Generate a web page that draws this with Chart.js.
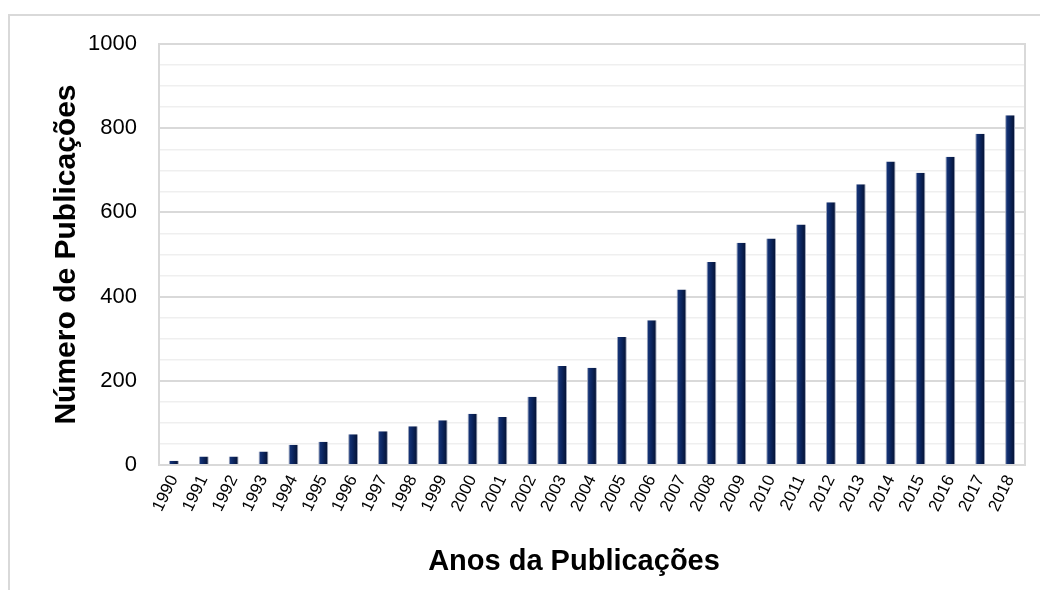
<!DOCTYPE html>
<html>
<head>
<meta charset="utf-8">
<script src="https://cdn.jsdelivr.net/npm/chart.js@4.4.1/dist/chart.umd.min.js"></script>
<style>
  body { margin: 0; width: 1040px; height: 590px; overflow: hidden; background: #fff; position: relative; }
  #frame { position: absolute; left: 8px; top: 14px; width: 1100px; height: 700px; border: 2px solid #d9d9d9; }
  #wrap { position: absolute; left: 0; top: 0; width: 1040px; height: 590px; }
</style>
</head>
<body>
<div id="frame"></div>
<div id="wrap"><canvas id="chart" width="1040" height="590"></canvas></div>
<script>
const years = ['1990','1991','1992','1993','1994','1995','1996','1997','1998','1999',
               '2000','2001','2002','2003','2004','2005','2006','2007','2008','2009',
               '2010','2011','2012','2013','2014','2015','2016','2017','2018'];
const publications = [10, 20, 20, 32, 48, 55, 73, 80, 92, 106,
                      122, 114, 162, 235, 231, 304, 344, 417, 482, 528,
                      538, 571, 624, 667, 721, 694, 732, 787, 831];
const yMax = 1000;
const yStep = 50;
const yLabelStep = 200;
const xTitle = 'Anos da Publicações';
const yTitle = 'Número de Publicações';

const font = "'Liberation Sans', Arial, sans-serif";

// grey box round the plot area and the x title, drawn after everything else
const extras = {
  id: 'extras',
  beforeDatasetsDraw(chart) {
    const {ctx, chartArea: a} = chart;
    ctx.save();
    ctx.strokeStyle = '#d9d9d9';
    ctx.lineWidth = 2;
    ctx.strokeRect(a.left, a.top, a.right - a.left, a.bottom - a.top);
    ctx.restore();
  },
  afterDraw(chart) {
    const {ctx} = chart;
    ctx.save();
    ctx.font = 'bold 29px ' + font;
    ctx.fillStyle = '#000';
    ctx.textAlign = 'center';
    ctx.textBaseline = 'middle';
    ctx.fillText(xTitle, 574, 562);
    ctx.restore();
  }
};

function barColor(c) {
  const chart = c.chart;
  if (!chart.chartArea || c.dataIndex === undefined) return '#0b2258';
  const x = chart.scales.x.getPixelForValue(c.dataIndex);
  const g = chart.ctx.createLinearGradient(x - 5, 0, x + 5, 0);
  g.addColorStop(0, '#1a3a80');
  g.addColorStop(0.45, '#0c2660');
  g.addColorStop(1, '#04102e');
  return g;
}

let ctx = document.getElementById('chart');
new Chart(ctx, {
  type: 'bar',
  data: {
    labels: years,
    datasets: [{
      label: 'Publicações',
      data: publications,
      backgroundColor: barColor,
      borderColor: '#9aa2b8',
      borderWidth: {left: 1, right: 1, top: 0, bottom: 0},
      barPercentage: 0.33,
      categoryPercentage: 1.0,
    }]
  },
  options: {
    responsive: false,
    animation: false,
    events: [],
    layout: { padding: { top: 44, right: 15, left: 0, bottom: 0 } },
    plugins: {
      legend: { display: false },
      tooltip: { enabled: false }
    },
    scales: {
      x: {
        afterFit: (s) => { s.height = 125; },
        grid: { display: false, drawTicks: false },
        border: { display: false },
        ticks: {
          color: '#000',
          autoSkip: false,
          minRotation: 64,
          maxRotation: 64,
          padding: 7,
          font: { family: font, size: 17 }
        }
      },
      y: {
        min: 0,
        max: yMax,
        afterFit: (s) => { s.width = 159; },
        border: { display: false },
        grid: {
          drawTicks: false,
          color: (c) => c.tick && c.tick.value % yLabelStep === 0 ? '#d9d9d9' : '#efefef',
          lineWidth: (c) => c.tick && c.tick.value % yLabelStep === 0 ? 2 : 1.5
        },
        ticks: {
          stepSize: yStep,
          autoSkip: false,
          color: '#000',
          padding: 22,
          font: { family: font, size: 22 },
          callback: (v) => v % yLabelStep === 0 ? v : ''
        },
        title: {
          display: true,
          text: yTitle,
          color: '#000',
          padding: { top: 49, bottom: 0 },
          font: { family: font, size: 30, weight: 'bold' }
        }
      }
    }
  },
  plugins: [extras]
});
</script>
</body>
</html>
